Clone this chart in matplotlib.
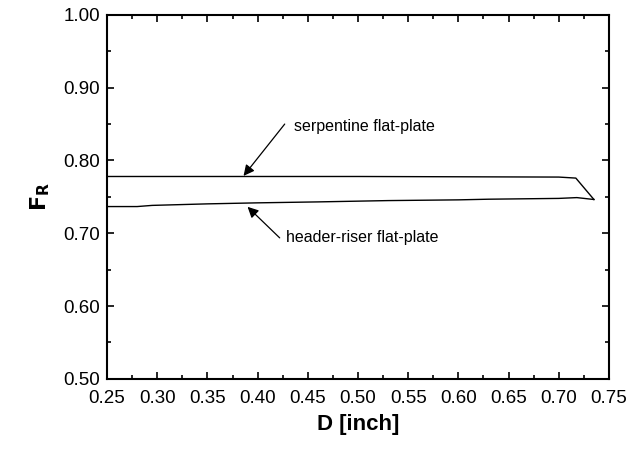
import matplotlib
matplotlib.use("Agg")
import matplotlib.pyplot as plt
from matplotlib.ticker import MultipleLocator, FormatStrFormatter

plt.rcParams["font.family"] = ["Liberation Sans", "DejaVu Sans"]

# serpentine flat-plate collector
d_serp = [0.25, 0.30, 0.35, 0.40, 0.45, 0.50, 0.55, 0.60, 0.65, 0.70, 0.717, 0.735]
fr_serp = [0.778, 0.778, 0.778, 0.778, 0.778, 0.778, 0.7778, 0.7776, 0.7774, 0.7772, 0.7758, 0.7464]

# header-riser flat-plate collector
d_hr = [0.25, 0.28, 0.295, 0.35, 0.40, 0.46, 0.53, 0.60, 0.63, 0.70, 0.718, 0.735]
fr_hr = [0.7367, 0.7367, 0.7383, 0.7404, 0.7418, 0.7431, 0.7449, 0.7459, 0.7468, 0.7479, 0.7490, 0.7464]

fig = plt.figure(figsize=(6.37, 4.5), dpi=100)
ax = fig.add_axes([0.168, 0.158, 0.788, 0.809])

ax.plot(d_serp, fr_serp, color="k", lw=1.0)
ax.plot(d_hr, fr_hr, color="k", lw=1.0)

ax.set_xlim(0.25, 0.75)
ax.set_ylim(0.5, 1.0)
ax.xaxis.set_major_locator(MultipleLocator(0.05))
ax.xaxis.set_minor_locator(MultipleLocator(0.025))
ax.yaxis.set_major_locator(MultipleLocator(0.1))
ax.yaxis.set_minor_locator(MultipleLocator(0.05))
ax.xaxis.set_major_formatter(FormatStrFormatter("%.2f"))
ax.yaxis.set_major_formatter(FormatStrFormatter("%.2f"))
ax.tick_params(which="both", direction="in", top=True, right=True, width=1.2,
               labelsize=13.5)
ax.tick_params(axis="x", pad=8)
ax.tick_params(axis="y", pad=5)
ax.tick_params(which="major", length=5)
ax.tick_params(which="minor", length=3)
for s in ax.spines.values():
    s.set_linewidth(1.5)

ax.set_xlabel("D [inch]", fontsize=16, fontweight="bold", labelpad=5)
ax.set_ylabel(r"$\mathbf{F_R}$", fontsize=16, labelpad=8)

arrow = dict(arrowstyle="-|>", color="k", lw=0.9, mutation_scale=16,
             shrinkA=0, shrinkB=0)
ax.annotate("", xy=(0.386, 0.7788), xytext=(0.427, 0.850), arrowprops=arrow)
ax.text(0.436, 0.846, "serpentine flat-plate", fontsize=11.5, va="center")
ax.annotate("", xy=(0.390, 0.7363), xytext=(0.422, 0.6937), arrowprops=arrow)
ax.text(0.428, 0.6937, "header-riser flat-plate", fontsize=11.5, va="center")

fig.savefig("out.png", dpi=100)
